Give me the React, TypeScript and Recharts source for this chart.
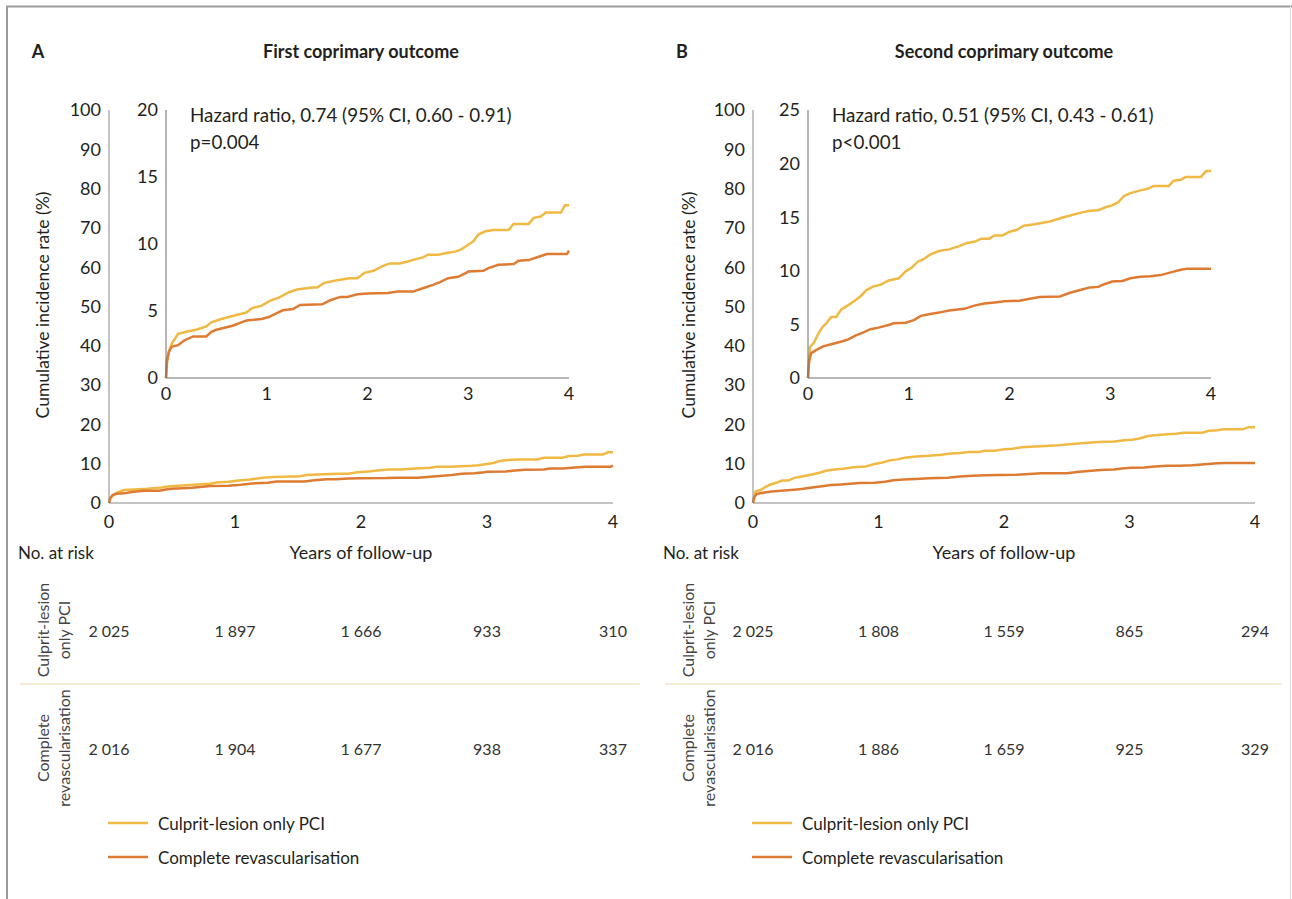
import React from "react";
import { LineChart, Line, XAxis, YAxis, LabelList } from "recharts";

const FONT = "Lato, 'Open Sans', sans-serif";
const TXT = "#231f20";
const AXIS = "#8a8a8a";
const YELLOW = "#F0B944";
const ORANGE = "#DE7B33";

const YEARS = [0, 1, 2, 3, 4];
const MAIN_Y_TICKS = [0, 10, 20, 30, 40, 50, 60, 70, 80, 90, 100];
const INSET_A_TICKS = [0, 5, 10, 15, 20];
const INSET_B_TICKS = [0, 5, 10, 15, 20, 25];

// Panel A — first coprimary outcome: [years, cumulative incidence %]
const A_CULPRIT: [number, number][] = [
  [0, 0], [0.01, 1.2], [0.03, 2.0], [0.06, 2.6], [0.09, 2.95], [0.12, 3.3], [0.2, 3.45], [0.3, 3.6],
  [0.4, 3.85], [0.45, 4.15], [0.55, 4.4], [0.7, 4.7], [0.8, 4.9], [0.85, 5.2], [0.95, 5.4], [1.03, 5.75],
  [1.12, 6.0], [1.22, 6.4], [1.3, 6.6], [1.45, 6.75], [1.5, 6.75], [1.57, 7.1], [1.7, 7.3], [1.82, 7.45],
  [1.9, 7.45], [1.97, 7.85], [2.06, 8.0], [2.15, 8.35], [2.22, 8.55], [2.32, 8.55], [2.4, 8.7], [2.47, 8.85],
  [2.55, 9.0], [2.6, 9.2], [2.7, 9.2], [2.8, 9.35], [2.88, 9.45], [2.93, 9.6], [3.0, 9.95], [3.05, 10.2],
  [3.1, 10.7], [3.17, 10.95], [3.25, 11.05], [3.4, 11.05], [3.45, 11.5], [3.6, 11.5], [3.65, 11.95],
  [3.72, 12.05], [3.77, 12.35], [3.92, 12.35], [3.96, 12.9], [4.0, 12.9],
];
const A_COMPLETE: [number, number][] = [
  [0, 0], [0.01, 1.3], [0.03, 2.0], [0.06, 2.35], [0.12, 2.45], [0.18, 2.8], [0.27, 3.1], [0.4, 3.1],
  [0.45, 3.45], [0.5, 3.6], [0.66, 3.9], [0.8, 4.3], [0.95, 4.4], [1.02, 4.55], [1.1, 4.85], [1.16, 5.05],
  [1.26, 5.15], [1.33, 5.45], [1.55, 5.5], [1.63, 5.8], [1.73, 6.05], [1.8, 6.05], [1.9, 6.25], [2.0, 6.3],
  [2.2, 6.35], [2.3, 6.45], [2.45, 6.45], [2.55, 6.7], [2.65, 6.95], [2.72, 7.15], [2.8, 7.45], [2.9, 7.55],
  [2.98, 7.85], [3.0, 7.95], [3.15, 8.0], [3.2, 8.2], [3.3, 8.45], [3.45, 8.5], [3.5, 8.75], [3.6, 8.8],
  [3.7, 9.05], [3.78, 9.25], [3.98, 9.25], [4.0, 9.5],
];

// Panel B — second coprimary outcome
const B_CULPRIT: [number, number][] = [
  [0, 0], [0.01, 1.5], [0.02, 2.9], [0.06, 3.3], [0.1, 4.1], [0.14, 4.7], [0.19, 5.2], [0.23, 5.7],
  [0.28, 5.7], [0.33, 6.4], [0.4, 6.8], [0.47, 7.25], [0.53, 7.7], [0.58, 8.2], [0.65, 8.55], [0.72, 8.7],
  [0.8, 9.1], [0.9, 9.3], [0.97, 9.95], [1.03, 10.3], [1.09, 10.85], [1.15, 11.1], [1.21, 11.5], [1.3, 11.85],
  [1.4, 12.0], [1.5, 12.3], [1.58, 12.6], [1.65, 12.7], [1.72, 13.0], [1.8, 13.0], [1.85, 13.3], [1.93, 13.3],
  [2.0, 13.65], [2.07, 13.8], [2.14, 14.2], [2.25, 14.35], [2.4, 14.6], [2.52, 14.95], [2.62, 15.2],
  [2.72, 15.45], [2.8, 15.6], [2.88, 15.65], [2.96, 15.95], [3.02, 16.1], [3.08, 16.4], [3.14, 17.0],
  [3.2, 17.25], [3.3, 17.5], [3.37, 17.65], [3.43, 17.9], [3.58, 17.9], [3.63, 18.4], [3.7, 18.5],
  [3.75, 18.75], [3.9, 18.75], [3.95, 19.3], [4.0, 19.3],
];
const B_COMPLETE: [number, number][] = [
  [0, 0], [0.01, 1.5], [0.03, 2.3], [0.08, 2.6], [0.15, 2.95], [0.25, 3.2], [0.35, 3.45], [0.4, 3.6],
  [0.47, 3.95], [0.55, 4.25], [0.62, 4.55], [0.7, 4.7], [0.8, 4.95], [0.85, 5.1], [0.97, 5.15], [1.05, 5.4],
  [1.12, 5.8], [1.2, 5.95], [1.3, 6.1], [1.4, 6.3], [1.55, 6.45], [1.65, 6.75], [1.75, 6.95], [1.85, 7.05],
  [1.95, 7.15], [2.1, 7.2], [2.2, 7.4], [2.3, 7.55], [2.5, 7.6], [2.6, 7.95], [2.72, 8.25], [2.8, 8.45],
  [2.88, 8.5], [2.94, 8.75], [3.02, 9.0], [3.12, 9.05], [3.2, 9.3], [3.3, 9.45], [3.4, 9.5], [3.5, 9.6],
  [3.6, 9.85], [3.7, 10.1], [3.76, 10.2], [4.0, 10.2],
];

// Numbers at risk
const A_RISK_CULPRIT = [2025, 1897, 1666, 933, 310];
const A_RISK_COMPLETE = [2016, 1904, 1677, 938, 337];
const B_RISK_CULPRIT = [2025, 1808, 1559, 865, 294];
const B_RISK_COMPLETE = [2016, 1886, 1659, 925, 329];

const SERIES_NAMES = ["Culprit-lesion only PCI", "Complete revascularisation"];

const toRows = (pts: [number, number][]) => pts.map(([t, v]) => ({ t, v }));
const fmt = (n: number) =>
  n >= 1000 ? `${Math.floor(n / 1000)} ${String(n % 1000).padStart(3, "0")}` : String(n);

type PanelProps = {
  letter: string;
  title: string;
  mainLeft: number;
  mainRight: number;
  insetLeft: number;
  insetRight: number;
  insetTicks: number[];
  culprit: [number, number][];
  complete: [number, number][];
  riskCulprit: number[];
  riskComplete: number[];
  hr: string;
  p: string;
  letterX: number;
  yLabelX: number;
  sepLeft: number;
  sepRight: number;
  noRiskX: number;
};

const tickStyle = { fill: TXT, fontSize: 18, fontFamily: FONT };

function RiskLabel(props: any) {
  const { x, y, value } = props;
  return (
    <text x={x} y={y} textAnchor="middle" dominantBaseline="central" fill="#333" fontSize={16} fontFamily={FONT}>
      {fmt(value)}
    </text>
  );
}

function Panel(g: PanelProps) {
  const top = 95;
  const mainW = g.mainRight - g.mainLeft;
  const insetW = g.insetRight - g.insetLeft;
  const insetMax = g.insetTicks[g.insetTicks.length - 1];
  const riskCul = YEARS.map((t, i) => ({ t, row: 1, n: g.riskCulprit[i] }));
  const riskCom = YEARS.map((t, i) => ({ t, row: 0, n: g.riskComplete[i] }));
  const titleCenter = (g.mainLeft + g.mainRight) / 2;
  return (
    <>
      <svg
        width={1292}
        height={899}
        style={{ position: "absolute", left: 0, top: 0, pointerEvents: "none" }}
      >
        <text x={g.letterX} y={51} textAnchor="middle" dominantBaseline="central" fontWeight={700} fontSize={18} fill={TXT} fontFamily={FONT}>
          {g.letter}
        </text>
        <text x={titleCenter} y={51} textAnchor="middle" dominantBaseline="central" fontWeight={700} fontSize={18} fill={TXT} fontFamily={FONT}>
          {g.title}
        </text>
        <text
          x={g.yLabelX}
          y={305}
          textAnchor="middle"
          dominantBaseline="central"
          transform={`rotate(-90 ${g.yLabelX} 305)`}
          fontSize={17.5}
          fill={TXT}
          fontFamily={FONT}
        >
          Cumulative incidence rate (%)
        </text>
        <text x={g.insetLeft + 24} y={114} dominantBaseline="central" fontSize={18.8} fill={TXT} fontFamily={FONT}>
          {g.hr}
        </text>
        <text x={g.insetLeft + 24} y={141} dominantBaseline="central" fontSize={18.8} fill={TXT} fontFamily={FONT}>
          {g.p}
        </text>
        <text x={g.noRiskX} y={552} dominantBaseline="central" fontSize={17} fill={TXT} fontFamily={FONT}>
          No. at risk
        </text>
        <text x={titleCenter} y={552} textAnchor="middle" dominantBaseline="central" fontSize={18} fill={TXT} fontFamily={FONT}>
          Years of follow-up
        </text>
        {/* row labels */}
        {[
          { cy: 630, lines: ["Culprit-lesion", "only PCI"] },
          { cy: 748, lines: ["Complete", "revascularisation"] },
        ].map((r, i) =>
          r.lines.map((ln, j) => {
            const x = g.noRiskX + 24 + j * 21;
            return (
              <text
                key={`${i}-${j}`}
                x={x}
                y={r.cy}
                textAnchor="middle"
                dominantBaseline="central"
                transform={`rotate(-90 ${x} ${r.cy})`}
                fontSize={16}
                fill="#444"
                fontFamily={FONT}
              >
                {ln}
              </text>
            );
          })
        )}
        <line x1={g.sepLeft} x2={g.sepRight} y1={684} y2={684} stroke="#fbe9d6" strokeWidth={2} />
        {/* legend */}
        {[YELLOW, ORANGE].map((c, i) => (
          <g key={c}>
            <line x1={g.mainLeft - 1} x2={g.mainLeft + 39} y1={823 + i * 34} y2={823 + i * 34} stroke={c} strokeWidth={2.5} />
            <text x={g.mainLeft + 49} y={823 + i * 34} dominantBaseline="central" fontSize={17} fill={TXT} fontFamily={FONT}>
              {SERIES_NAMES[i]}
            </text>
          </g>
        ))}
      </svg>

      {/* main chart */}
      <div style={{ position: "absolute", left: g.mainLeft - 60, top }}>
        <LineChart width={mainW + 80} height={448} margin={{ top: 15, right: 20, left: 0, bottom: 0 }}>
          <XAxis
            type="number"
            dataKey="t"
            domain={[0, 4]}
            ticks={YEARS}
            interval={0}
            tickLine={false}
            axisLine={{ stroke: AXIS }}
            tick={tickStyle}
            height={40}
            tickMargin={6}
          />
          <YAxis
            type="number"
            domain={[0, 100]}
            ticks={MAIN_Y_TICKS}
            interval={0}
            tickLine={false}
            axisLine={{ stroke: AXIS }}
            tick={tickStyle}
            width={60}
          />
          <Line data={toRows(g.culprit)} dataKey="v" type="linear" stroke={YELLOW} strokeWidth={2.5} dot={false} isAnimationActive={false} />
          <Line data={toRows(g.complete)} dataKey="v" type="linear" stroke={ORANGE} strokeWidth={2.5} dot={false} isAnimationActive={false} />
        </LineChart>
      </div>

      {/* inset */}
      <div style={{ position: "absolute", left: g.insetLeft - 50, top }}>
        <LineChart width={insetW + 65} height={378 - top + 30} margin={{ top: 15, right: 15, left: 0, bottom: 0 }}>
          <XAxis
            type="number"
            dataKey="t"
            domain={[0, 4]}
            ticks={YEARS}
            interval={0}
            tickLine={false}
            axisLine={{ stroke: "#6e6e6e" }}
            tick={tickStyle}
            height={30}
            tickMargin={3}
          />
          <YAxis
            type="number"
            domain={[0, insetMax]}
            ticks={g.insetTicks}
            interval={0}
            tickLine={false}
            axisLine={{ stroke: "#6e6e6e" }}
            tick={tickStyle}
            width={50}
          />
          <Line data={toRows(g.culprit)} dataKey="v" type="linear" stroke={YELLOW} strokeWidth={2.5} dot={false} isAnimationActive={false} />
          <Line data={toRows(g.complete)} dataKey="v" type="linear" stroke={ORANGE} strokeWidth={2.5} dot={false} isAnimationActive={false} />
        </LineChart>
      </div>

      {/* numbers at risk */}
      <div style={{ position: "absolute", left: g.mainLeft - 40, top: 600 }}>
        <LineChart width={mainW + 80} height={180} margin={{ top: 30, right: 40, left: 40, bottom: 32 }}>
          <XAxis type="number" dataKey="t" domain={[0, 4]} hide />
          <YAxis type="number" domain={[0, 1]} hide />
          <Line data={riskCul} dataKey="row" stroke="none" dot={false} isAnimationActive={false}>
            <LabelList dataKey="n" content={<RiskLabel />} />
          </Line>
          <Line data={riskCom} dataKey="row" stroke="none" dot={false} isAnimationActive={false}>
            <LabelList dataKey="n" content={<RiskLabel />} />
          </Line>
        </LineChart>
      </div>
    </>
  );
}

export default function App() {
  return (
    <div style={{ position: "absolute", left: 0, top: 0, width: 1292, height: 899, background: "#fff", fontFamily: FONT, overflow: "hidden" }}>
      <svg width={1292} height={899} style={{ position: "absolute", left: 0, top: 0 }}>
        <line x1={6} x2={1292} y1={6.5} y2={6.5} stroke="#9b9b9b" strokeWidth={2} />
        <line x1={7} x2={7} y1={6} y2={899} stroke="#9b9b9b" strokeWidth={2} />
        <line x1={1290.5} x2={1290.5} y1={6} y2={899} stroke="#dcdcdc" strokeWidth={1} />
      </svg>
      <Panel
        letter="A"
        title="First coprimary outcome"
        mainLeft={109}
        mainRight={613}
        insetLeft={166}
        insetRight={569}
        insetTicks={INSET_A_TICKS}
        culprit={A_CULPRIT}
        complete={A_COMPLETE}
        riskCulprit={A_RISK_CULPRIT}
        riskComplete={A_RISK_COMPLETE}
        hr="Hazard ratio, 0.74 (95% CI, 0.60 - 0.91)"
        p="p=0.004"
        letterX={38}
        yLabelX={42}
        sepLeft={20}
        sepRight={640}
        noRiskX={18}
      />
      <Panel
        letter="B"
        title="Second coprimary outcome"
        mainLeft={753}
        mainRight={1255}
        insetLeft={808}
        insetRight={1211}
        insetTicks={INSET_B_TICKS}
        culprit={B_CULPRIT}
        complete={B_COMPLETE}
        riskCulprit={B_RISK_CULPRIT}
        riskComplete={B_RISK_COMPLETE}
        hr="Hazard ratio, 0.51 (95% CI, 0.43 - 0.61)"
        p="p<0.001"
        letterX={682}
        yLabelX={688}
        sepLeft={665}
        sepRight={1282}
        noRiskX={663}
      />
    </div>
  );
}
